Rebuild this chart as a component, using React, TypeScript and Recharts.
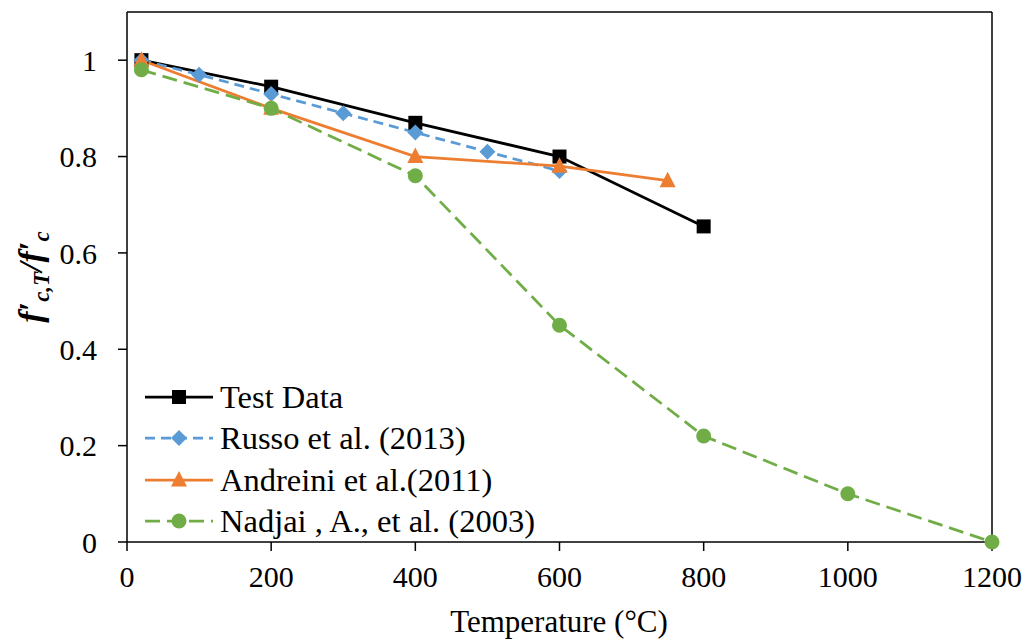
import { LineChart, Line, XAxis, YAxis, ReferenceLine } from "recharts";

const xTicks = [0, 200, 400, 600, 800, 1000, 1200];
const yTicks = [0, 0.2, 0.4, 0.6, 0.8, 1];

const testTemps = [20, 200, 400, 600, 800];
const testRatio = [1.0, 0.945, 0.87, 0.8, 0.655];

const russoTemps = [20, 100, 200, 300, 400, 500, 600];
const russoRatio = [1.0, 0.97, 0.93, 0.89, 0.85, 0.81, 0.77];

const andreiniTemps = [20, 200, 400, 600, 750];
const andreiniRatio = [1.0, 0.9, 0.8, 0.78, 0.75];

const nadjaiTemps = [20, 200, 400, 600, 800, 1000, 1200];
const nadjaiRatio = [0.98, 0.9, 0.76, 0.45, 0.22, 0.1, 0.0];

const FONT = '"Liberation Serif", "Times New Roman", serif';

type Shape = "square" | "diamond" | "triangle" | "circle";

const series: {
  name: string;
  temps: number[];
  ratio: number[];
  color: string;
  dash?: string;
  shape: Shape;
}[] = [
  { name: "Test Data", temps: testTemps, ratio: testRatio, color: "#000000", shape: "square" },
  { name: "Russo et al. (2013)", temps: russoTemps, ratio: russoRatio, color: "#5B9BD5", dash: "10 6", shape: "diamond" },
  { name: "Andreini et al.(2011)", temps: andreiniTemps, ratio: andreiniRatio, color: "#ED7D31", shape: "triangle" },
  { name: "Nadjai , A., et al. (2003)", temps: nadjaiTemps, ratio: nadjaiRatio, color: "#70AD47", dash: "15 7", shape: "circle" },
];

function Marker({ cx, cy, shape, color }: { cx: number; cy: number; shape: Shape; color: string }) {
  if (cx == null || cy == null) return null;
  if (shape === "square") return <rect x={cx - 7} y={cy - 7} width={14} height={14} fill={color} />;
  if (shape === "diamond")
    return <polygon points={`${cx},${cy - 8} ${cx + 8},${cy} ${cx},${cy + 8} ${cx - 8},${cy}`} fill={color} />;
  if (shape === "triangle")
    return <polygon points={`${cx},${cy - 9} ${cx + 8},${cy + 6.5} ${cx - 8},${cy + 6.5}`} fill={color} />;
  return <circle cx={cx} cy={cy} r={7.5} fill={color} />;
}

function LegendBox() {
  return (
    <div
      style={{
        position: "absolute",
        left: 143,
        top: 376,
        fontFamily: FONT,
        fontSize: 32.5,
        color: "#000",
        lineHeight: 1,
      }}
    >
      {series.map((s) => (
        <div key={s.name} style={{ display: "flex", alignItems: "center", height: 41.5, whiteSpace: "nowrap" }}>
          <svg width={72} height={22} style={{ marginRight: 5 }}>
            <line x1={2} y1={11} x2={70} y2={11} stroke={s.color} strokeWidth={2.75} strokeDasharray={s.dash} />
            <Marker cx={36} cy={11} shape={s.shape} color={s.color} />
          </svg>
          <span>{s.name}</span>
        </div>
      ))}
    </div>
  );
}

function XTick({ x, y, payload }: { x: number; y: number; payload: { value: number } }) {
  return (
    <text x={x} y={y} dy="0.71em" textAnchor="middle" fontFamily={FONT} fontSize={30} fill="#000">
      {payload.value}
    </text>
  );
}

function YTick({ x, y, payload }: { x: number; y: number; payload: { value: number } }) {
  return (
    <text x={x} y={y} dy="0.355em" textAnchor="end" fontFamily={FONT} fontSize={30} fill="#000">
      {String(payload.value)}
    </text>
  );
}

function XLabel() {
  return (
    <text x={559} y={632} textAnchor="middle" fontFamily={FONT} fontSize={31} fill="#000">
      Temperature (°C)
    </text>
  );
}

function YLabel() {
  const cx = 42;
  const cy = 277;
  return (
    <text
      x={cx}
      y={cy}
      transform={`rotate(-90 ${cx} ${cy})`}
      textAnchor="middle"
      fontFamily={FONT}
      fontWeight="bold"
      fontStyle="italic"
      fontSize={34}
      fill="#000"
    >
      <tspan>f′</tspan>
      <tspan fontSize={23} dy={7}>c,T</tspan>
      <tspan dy={-7}>/f′</tspan>
      <tspan fontSize={23} dy={7}>c</tspan>
    </text>
  );
}

export default function App() {
  return (
    <div
      style={{
        position: "absolute",
        left: 0,
        top: 0,
        width: 1031,
        height: 643,
        background: "#fff",
        fontFamily: FONT,
      }}
    >
      <LineChart width={1031} height={643} margin={{ top: 12, right: 39, bottom: 0, left: 0 }}>
        <XAxis
          type="number"
          dataKey="t"
          domain={[0, 1200]}
          ticks={xTicks}
          tick={XTick}
          tickSize={9}
          tickMargin={15}
          stroke="#000"
          strokeWidth={1.5}
          height={101}
          allowDuplicatedCategory={false}
          label={<XLabel />}
        />
        <YAxis
          type="number"
          domain={[0, 1.1]}
          ticks={yTicks}
          tick={YTick}
          tickSize={9}
          tickMargin={21}
          stroke="#000"
          strokeWidth={1.5}
          width={127}
          label={<YLabel />}
        />
        <ReferenceLine y={1.1} stroke="#000" strokeWidth={1.5} />
        <ReferenceLine x={1200} stroke="#000" strokeWidth={1.5} />
        {series.map((s) => (
          <Line
            key={s.name}
            name={s.name}
            data={s.temps.map((t, i) => ({ t, r: s.ratio[i] }))}
            dataKey="r"
            stroke={s.color}
            strokeWidth={2.75}
            strokeDasharray={s.dash}
            dot={(p: { cx: number; cy: number; index: number }) => (
              <Marker key={p.index} cx={p.cx} cy={p.cy} shape={s.shape} color={s.color} />
            )}
            activeDot={false}
            isAnimationActive={false}
          />
        ))}
      </LineChart>
      <LegendBox />
    </div>
  );
}
